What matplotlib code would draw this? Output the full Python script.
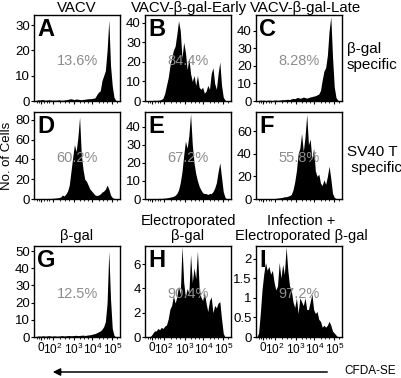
import numpy as np
import matplotlib
matplotlib.use("Agg")
import matplotlib.pyplot as plt

plt.rcParams['font.family'] = ['Liberation Sans', 'DejaVu Sans']
plt.rcParams['mathtext.fontset'] = 'custom'
plt.rcParams['mathtext.rm'] = 'Liberation Sans'

W, H = 401, 378

# ---------------- data (histogram counts, 50 bins along CFDA-SE axis) -------------
panel_letters = ["A", "B", "C", "D", "E", "F", "G", "H", "I"]
percent_labels = ["13.6%", "84.4%", "8.28%", "60.2%", "67.2%", "55.8%", "12.5%", "90.4%", "97.2%"]

counts_A = [0, 0.3, 0.5, 0.4, 0.6, 0.5, 0.3, 0.4, 0.5, 0.4, 0.3, 0.4, 0.3, 0.4, 0.5, 0.3, 0.3, 0.4, 0.5, 0.6,
            0.8, 0.9, 0.7, 0.6, 0.8, 0.7, 0.6, 0.5, 0.6, 0.7, 0.8, 0.9, 0.9, 1.0, 1.1, 1.3, 2.5, 3.5, 4, 8,
            10, 12, 20, 32, 14, 6, 1.5, 0.3, 0, 0]
counts_B = [0, 0.2, 0.3, 0.2, 0.3, 0.4, 0.3, 0.4, 0.5, 0.8, 1.5, 4, 8, 12, 18, 22, 26, 28, 34, 41,
            36, 22, 30, 25, 16, 22, 14, 10, 13, 8, 13, 7, 6, 7, 4, 5, 8, 6, 14, 17,
            9, 6, 14, 20, 8, 2, 0.5, 0, 0, 0]
counts_C = [0, 0.3, 0.5, 0.4, 0.5, 0.3, 0.4, 0.5, 0.4, 0.3, 0.5, 0.6, 0.4, 0.5, 0.6, 0.8, 0.7, 0.9, 1.0, 0.8,
            1.2, 1.5, 1.3, 1.8, 2.0, 1.5, 1.8, 2.2, 2.0, 1.6, 2.0, 2.3, 2.5, 2.8, 3.0, 3.5, 4, 6, 12, 17,
            19, 26, 40, 48, 25, 8, 2, 0.5, 0, 0]
counts_D = [0, 0.3, 0.5, 0.4, 0.5, 0.6, 0.4, 0.5, 0.6, 0.5, 0.7, 0.8, 1.0, 1.2, 1.5, 2, 4, 3, 5, 8,
            14, 28, 42, 55, 48, 62, 83, 45, 30, 20, 18, 14, 10, 8, 6, 4, 3.5, 4, 5, 7,
            8, 10, 14, 10, 4, 1.5, 0.5, 0, 0, 0]
counts_E = [0, 0.2, 0.3, 0.2, 0.3, 0.3, 0.2, 0.3, 0.4, 0.3, 0.4, 0.5, 0.6, 0.8, 1.0, 1.2, 1.5, 2, 3, 5,
            9, 15, 24, 32, 28, 35, 47, 30, 20, 14, 10, 7, 5, 3.5, 3, 3, 2.5, 3, 3, 4,
            6, 9, 15, 20, 12, 4, 1, 0, 0, 0]
counts_F = [0, 0.2, 0.3, 0.2, 0.3, 0.3, 0.4, 0.3, 0.4, 0.5, 0.4, 0.6, 0.8, 1.0, 1.2, 1.5, 2, 2, 2.5, 3,
            4, 8, 15, 25, 40, 45, 58, 42, 55, 75, 48, 53, 35, 45, 25, 20, 22, 14, 12, 17,
            13, 20, 29, 18, 5, 1.5, 0.5, 0, 0, 0]
counts_G = [0, 0.4, 0.6, 0.5, 0.6, 0.7, 0.5, 0.6, 0.8, 0.6, 0.5, 0.7, 0.6, 0.5, 0.6, 0.7, 0.8, 0.6, 0.7, 0.8,
            0.9, 0.7, 0.8, 0.9, 1.0, 0.8, 0.9, 1.0, 1.1, 0.9, 1.0, 1.2, 1.3, 1.5, 1.8, 2.0, 2.5, 3.0, 3.5, 4.5,
            6, 9, 20, 50, 22, 5, 1, 0, 0, 0]
counts_H = [0, 0, 0, 0.1, 0.3, 0.5, 0.5, 0.7, 0.6, 0.8, 0.7, 0.9, 1.0, 1.5, 2.3, 2.6, 3.4, 2.8, 3.3, 4.2,
            3.5, 7.5, 4.5, 3.3, 4.0, 3.6, 6.8, 4.5, 5.7, 4.8, 7.1, 4.0, 3.3, 3.0, 3.7, 2.8, 2.1, 3.0, 3.3, 2.0,
            2.6, 2.4, 2.8, 2.9, 1.5, 0.3, 0, 0, 0, 0]
counts_I = [0, 0.1, 0.6, 1.2, 1.6, 1.9, 1.7, 1.8, 1.6, 1.7, 1.4, 1.2, 1.3, 1.9, 1.5, 1.85, 1.6, 2.3, 1.7, 1.3,
            1.2, 0.9, 0.75, 1.0, 0.6, 1.0, 0.9, 0.8, 1.0, 0.7, 0.7, 0.9, 1.1, 0.7, 0.6, 0.65, 0.45, 0.4, 0.25, 0.3,
            0.25, 0.3, 0.4, 0.3, 0.15, 0.1, 0.05, 0, 0, 0]

y_ticks = [[0, 10, 20, 30], [0, 10, 20, 30, 40], [0, 10, 20, 30, 40],
           [0, 20, 40, 60, 80], [0, 10, 20, 30, 40], [0, 20, 40, 60],
           [0, 10, 20, 30, 40, 50], [0, 2, 4, 6], [0, 0.5, 1, 1.5, 2]]
y_tick_labels = [["0", "10", "20", "30"], ["0", "10", "20", "30", "40"], ["0", "10", "20", "30", "40"],
                 ["0", "20", "40", "60", "80"], ["0", "10", "20", "30", "40"], ["0", "20", "40", "60"],
                 ["0", "10", "20", "30", "40", "50"], ["0", "2", "4", "6"], ["0", "0.5", "1", "1.5", "2"]]
y_max = [34, 44, 49, 88, 48, 77, 53, 7.5, 2.32]

x_tick_labels = ["0", r"$10^2$", r"$10^3$", r"$10^4$", r"$10^5$"]

col_titles = ["VACV", "VACV-β-gal-Early", "VACV-β-gal-Late"]
row3_titles = ["β-gal", "Electroporated\nβ-gal", "Infection +\nElectroporated β-gal"]
row_labels = ["β-gal\nspecific", "SV40 T\n specific"]

all_counts = [counts_A, counts_B, counts_C, counts_D, counts_E, counts_F, counts_G, counts_H, counts_I]

# ---------------- layout --------------------------------------------------------
x_major = [0.085, 0.22, 0.46, 0.68, 0.91]
x_minor = [0.03, 0.06, 0.12, 0.15, 0.18, 0.30, 0.36, 0.41, 0.53, 0.58, 0.63, 0.75, 0.80, 0.85, 0.97]
col_left = [34, 145, 256]
col_w = 86
row_top = [15, 112, 246]
row_h = [86, 87, 91]
col_title_x = [77, 189, 306]
row3_title_x = [77, 188, 301]

fig = plt.figure(figsize=(W / 100, H / 100), dpi=100)


def fx(px):
    return px / W


def fy(py):
    return 1 - py / H


nb = len(counts_A)
xc = (np.arange(nb) + 0.5) / nb

for k in range(9):
    r, c = divmod(k, 3)
    ax = fig.add_axes([fx(col_left[c]), fy(row_top[r] + row_h[r]), col_w / W, row_h[r] / H])
    y = np.array(all_counts[k], dtype=float)
    ax.fill_between(xc, 0, y, color='black', lw=0)
    ax.set_xlim(0, 1)
    ax.set_ylim(0, y_max[k])
    for s in ax.spines.values():
        s.set_linewidth(1.0)
    ax.set_yticks(y_ticks[k])
    ax.set_yticklabels(y_tick_labels[k])
    ax.tick_params(axis='y', direction='out', length=2.5, width=0.8, pad=0.5, labelsize=9.5)
    ax.set_xticks(x_major)
    ax.set_xticks(x_minor, minor=True)
    if r == 2:
        ax.set_xticklabels(x_tick_labels)
    else:
        ax.set_xticklabels([])
    ax.tick_params(axis='x', which='major', direction='out', length=2.5, width=0.8, pad=1, labelsize=8.5)
    ax.tick_params(axis='x', which='minor', direction='out', length=1.5, width=0.6)
    ax.text(0.04, 0.97, panel_letters[k], transform=ax.transAxes, ha='left', va='top',
            fontsize=17, fontweight='bold')
    ax.text(0.5, 0.47, percent_labels[k], transform=ax.transAxes, ha='center', va='center',
            fontsize=10.5, color='#8c8c8c')

# column titles
for c, t in enumerate(col_titles):
    fig.text(fx(col_title_x[c]), fy(8), t, ha='center', va='center', fontsize=10.8)

# row 3 titles
for c, t in enumerate(row3_titles):
    fig.text(fx(row3_title_x[c]), fy(243), t, ha='center', va='bottom', fontsize=10.5,
             linespacing=1.1)

# right row labels
fig.text(fx(347), fy(57), row_labels[0], ha='left', va='center', fontsize=11, linespacing=1.15)
fig.text(fx(347), fy(160), row_labels[1], ha='left', va='center', fontsize=11, linespacing=1.15)

# y axis label
fig.text(fx(7), fy(156), "No. of Cells", rotation=90, ha='center', va='center', fontsize=9.5)

# CFDA-SE arrow
fig.add_artist(matplotlib.patches.FancyArrowPatch((fx(330), fy(372)), (fx(50), fy(372)),
                                                  transform=fig.transFigure, arrowstyle='-|>',
                                                  mutation_scale=11, lw=1.1, color='black'))
fig.text(fx(344), fy(371), "CFDA-SE", ha='left', va='center', fontsize=8.5)

fig.savefig("out.png", dpi=100)
